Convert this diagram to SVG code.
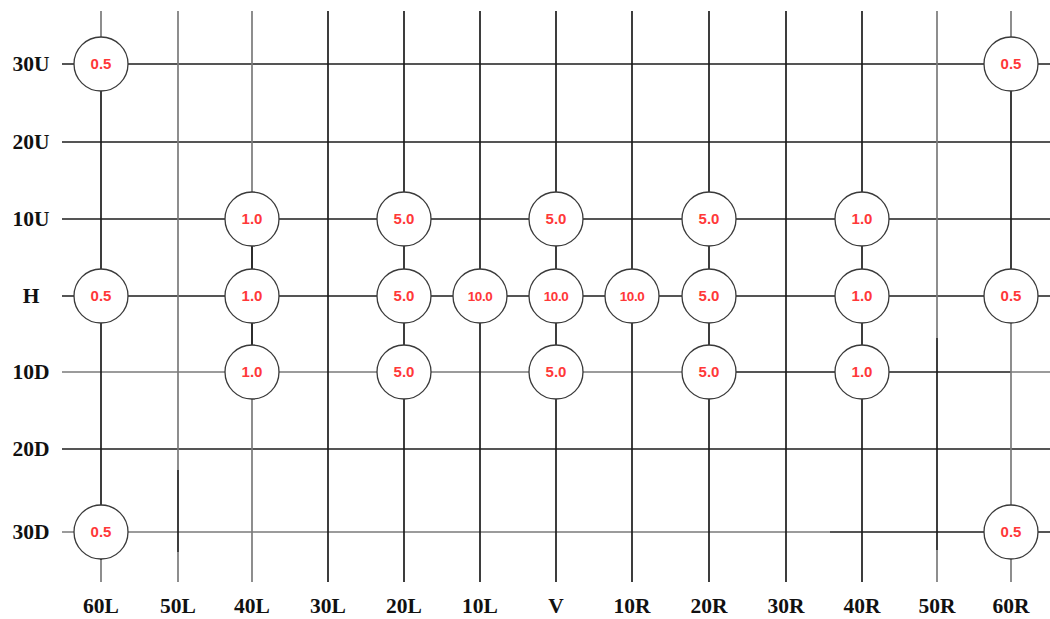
<svg xmlns="http://www.w3.org/2000/svg" width="1050" height="619" viewBox="0 0 1050 619">
<style>
.ln{stroke:#1c1c1c;stroke-width:1.7;fill:none}
.gl{stroke:#7a7a7a;stroke-width:1.7;fill:none}
.nd circle{fill:#fff;stroke:#3a3a3a;stroke-width:1.3}
.nd text{font-family:"Liberation Sans",Arial,sans-serif;font-weight:bold;font-size:15px;fill:#ff3838;text-anchor:middle}
.nd text.s{font-size:13.5px;letter-spacing:-0.5px}
.lb{font-family:"Liberation Serif","Times New Roman",serif;font-weight:bold;font-size:21.5px;fill:#111;text-anchor:middle}
</style>
<rect width="1050" height="619" fill="#fff"/>
<g id="connectors">
<line class="ln" x1="62" y1="64" x2="1050" y2="64"/>
<line class="ln" x1="62" y1="142" x2="1050" y2="142"/>
<line class="ln" x1="62" y1="219" x2="1050" y2="219"/>
<line class="ln" x1="62" y1="296" x2="1050" y2="296"/>
<line class="gl" x1="62" y1="372" x2="684" y2="372"/>
<line class="ln" x1="684" y1="372" x2="1011" y2="372"/>
<line class="gl" x1="1011" y1="372" x2="1050" y2="372"/>
<line class="ln" x1="62" y1="449" x2="1050" y2="449"/>
<line class="gl" x1="62" y1="532" x2="830" y2="532"/>
<line class="ln" x1="830" y1="532" x2="1050" y2="532"/>
<line class="gl" x1="101" y1="11" x2="101" y2="40"/>
<line class="ln" x1="101" y1="40" x2="101" y2="560"/>
<line class="gl" x1="101" y1="560" x2="101" y2="582"/>
<line class="gl" x1="178" y1="11" x2="178" y2="470"/>
<line class="ln" x1="178" y1="470" x2="178" y2="552"/>
<line class="gl" x1="178" y1="552" x2="178" y2="582"/>
<line class="gl" x1="252" y1="11" x2="252" y2="582"/>
<line class="ln" x1="252" y1="240" x2="252" y2="350"/>
<line class="ln" x1="328" y1="11" x2="328" y2="582"/>
<line class="ln" x1="404" y1="11" x2="404" y2="582"/>
<line class="ln" x1="480" y1="11" x2="480" y2="582"/>
<line class="ln" x1="556" y1="11" x2="556" y2="582"/>
<line class="ln" x1="632" y1="11" x2="632" y2="582"/>
<line class="ln" x1="709" y1="11" x2="709" y2="582"/>
<line class="ln" x1="786" y1="11" x2="786" y2="582"/>
<line class="ln" x1="862" y1="11" x2="862" y2="582"/>
<line class="gl" x1="937" y1="11" x2="937" y2="338"/>
<line class="ln" x1="937" y1="338" x2="937" y2="550"/>
<line class="gl" x1="937" y1="550" x2="937" y2="582"/>
<line class="gl" x1="1011" y1="11" x2="1011" y2="40"/>
<line class="ln" x1="1011" y1="40" x2="1011" y2="300"/>
<line class="gl" x1="1011" y1="300" x2="1011" y2="582"/>
</g>
<g id="row-labels">
<text class="lb" x="31" y="71">30U</text>
<text class="lb" x="31" y="149">20U</text>
<text class="lb" x="31" y="226">10U</text>
<text class="lb" x="31" y="303">H</text>
<text class="lb" x="31" y="379">10D</text>
<text class="lb" x="31" y="456">20D</text>
<text class="lb" x="31" y="539">30D</text>
</g>
<g id="col-labels">
<text class="lb" x="101" y="613">60L</text>
<text class="lb" x="178" y="613">50L</text>
<text class="lb" x="252" y="613">40L</text>
<text class="lb" x="328" y="613">30L</text>
<text class="lb" x="404" y="613">20L</text>
<text class="lb" x="480" y="613">10L</text>
<text class="lb" x="556" y="613">V</text>
<text class="lb" x="632" y="613">10R</text>
<text class="lb" x="709" y="613">20R</text>
<text class="lb" x="786" y="613">30R</text>
<text class="lb" x="862" y="613">40R</text>
<text class="lb" x="937" y="613">50R</text>
<text class="lb" x="1011" y="613">60R</text>
</g>
<g id="n-30U-60L" class="nd"><circle cx="101" cy="64" r="27"/><text x="101" y="69">0.5</text></g>
<g id="n-30U-60R" class="nd"><circle cx="1011" cy="64" r="27"/><text x="1011" y="69">0.5</text></g>
<g id="n-10U-40L" class="nd"><circle cx="252" cy="219" r="27"/><text x="252" y="224">1.0</text></g>
<g id="n-10U-20L" class="nd"><circle cx="404" cy="219" r="27"/><text x="404" y="224">5.0</text></g>
<g id="n-10U-V" class="nd"><circle cx="556" cy="219" r="27"/><text x="556" y="224">5.0</text></g>
<g id="n-10U-20R" class="nd"><circle cx="709" cy="219" r="27"/><text x="709" y="224">5.0</text></g>
<g id="n-10U-40R" class="nd"><circle cx="862" cy="219" r="27"/><text x="862" y="224">1.0</text></g>
<g id="n-H-60L" class="nd"><circle cx="101" cy="296" r="27"/><text x="101" y="301">0.5</text></g>
<g id="n-H-40L" class="nd"><circle cx="252" cy="296" r="27"/><text x="252" y="301">1.0</text></g>
<g id="n-H-20L" class="nd"><circle cx="404" cy="296" r="27"/><text x="404" y="301">5.0</text></g>
<g id="n-H-10L" class="nd"><circle cx="480" cy="296" r="27"/><text class="s" x="480" y="301">10.0</text></g>
<g id="n-H-V" class="nd"><circle cx="556" cy="296" r="27"/><text class="s" x="556" y="301">10.0</text></g>
<g id="n-H-10R" class="nd"><circle cx="632" cy="296" r="27"/><text class="s" x="632" y="301">10.0</text></g>
<g id="n-H-20R" class="nd"><circle cx="709" cy="296" r="27"/><text x="709" y="301">5.0</text></g>
<g id="n-H-40R" class="nd"><circle cx="862" cy="296" r="27"/><text x="862" y="301">1.0</text></g>
<g id="n-H-60R" class="nd"><circle cx="1011" cy="296" r="27"/><text x="1011" y="301">0.5</text></g>
<g id="n-10D-40L" class="nd"><circle cx="252" cy="372" r="27"/><text x="252" y="377">1.0</text></g>
<g id="n-10D-20L" class="nd"><circle cx="404" cy="372" r="27"/><text x="404" y="377">5.0</text></g>
<g id="n-10D-V" class="nd"><circle cx="556" cy="372" r="27"/><text x="556" y="377">5.0</text></g>
<g id="n-10D-20R" class="nd"><circle cx="709" cy="372" r="27"/><text x="709" y="377">5.0</text></g>
<g id="n-10D-40R" class="nd"><circle cx="862" cy="372" r="27"/><text x="862" y="377">1.0</text></g>
<g id="n-30D-60L" class="nd"><circle cx="101" cy="532" r="27"/><text x="101" y="537">0.5</text></g>
<g id="n-30D-60R" class="nd"><circle cx="1011" cy="532" r="27"/><text x="1011" y="537">0.5</text></g>
</svg>
